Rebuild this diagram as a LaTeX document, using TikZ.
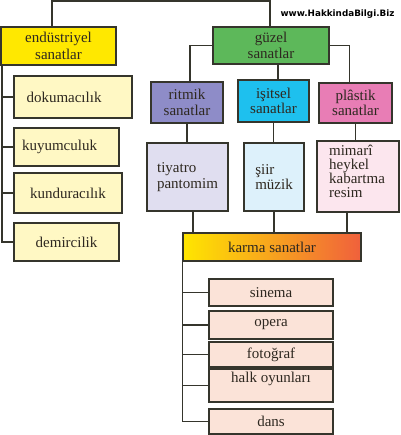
\documentclass[tikz,border=0pt]{standalone}
\usepackage{fontspec}
\setmainfont{Liberation Serif}
\newfontfamily\wmfont{DejaVu Sans}
\definecolor{linec}{HTML}{35352C}
\definecolor{textc}{HTML}{2E2820}
\definecolor{yellowA}{HTML}{FFE800}
\definecolor{yellowL}{HTML}{FFF8C4}
\definecolor{greenA}{HTML}{5DB85A}
\definecolor{purpleA}{HTML}{8E8CC8}
\definecolor{cyanA}{HTML}{1EC0EE}
\definecolor{pinkA}{HTML}{E87DB5}
\definecolor{lavL}{HTML}{E0DEF0}
\definecolor{cyanL}{HTML}{DDF1FB}
\definecolor{pinkL}{HTML}{FCE6EE}
\definecolor{karmaA}{HTML}{FFE600}
\definecolor{karmaB}{HTML}{F0603C}
\definecolor{peachL}{HTML}{FBE3D8}
\begin{document}
\begin{tikzpicture}[x=1pt,y=-1pt,
  txt/.style={font=\fontsize{15}{15.5}\selectfont, text=textc},
  box/.style={draw=linec, line width=1.2pt, inner sep=0pt, align=center, txt},
  sz/.style 2 args={minimum width=#1pt, minimum height=#2pt},
  every label/.style={txt, inner sep=0pt, align=left},
  conn/.style={draw=linec, line width=1.2pt}]
\useasboundingbox (0,0) rectangle (400,435);
% watermark
\node[font=\wmfont\bfseries\fontsize{8.8}{10}\selectfont, inner sep=0pt] (wm) at (337.5,14) {www.HakkindaBilgi.Biz};
% left branch
\node[box, sz={115}{38}, fill=yellowA, font=\fontsize{15}{17}\selectfont] (endu) at (58.5,46) {endüstriyel\\sanatlar};
\node[box, sz={118}{42}, fill=yellowL, label={[xshift=-9pt]center:dokumacılık}] (doku) at (73,97) {};
\node[box, sz={105}{38}, fill=yellowL, label={[xshift=-7pt]center:kuyumculuk}] (kuyu) at (66.5,147) {};
\node[box, sz={108}{40}, fill=yellowL] (kund) at (68,193) {kunduracılık};
\node[box, sz={105}{38}, fill=yellowL] (demi) at (66.5,242) {demircilik};
% right branch
\node[box, sz={116}{37}, fill=greenA, font=\fontsize{15}{16}\selectfont] (guzel) at (271,45.5) {güzel\\sanatlar};
\node[box, sz={72}{41}, fill=purpleA] (ritm) at (187,102.5) {ritmik\\sanatlar};
\node[box, sz={71}{42}, fill=cyanA] (isit) at (273.5,101) {işitsel\\sanatlar};
\node[box, sz={73}{40}, fill=pinkA] (plas) at (355.5,103) {plâstik\\sanatlar};
\node[box, sz={81}{68}, fill=lavL, align=left] (tiya) at (187.5,177) {tiyatro\\pantomim};
\node[box, sz={60}{68}, fill=cyanL, align=left] (siir) at (274,177) {şiir\\müzik};
\node[box, sz={82}{71}, fill=pinkL, label={[yshift=5pt, xshift=-1pt, font=\fontsize{15}{14}\selectfont]center:mimarî\\heykel\\kabartma\\resim}] (mima) at (358,176.5) {};
\node[box, sz={178}{28}, left color=karmaA, right color=karmaB] (karma) at (272,247) {karma sanatlar};
\node[box, sz={124}{27}, fill=peachL] (sine) at (271,292.5) {sinema};
\node[box, sz={124}{28}, fill=peachL] (oper) at (271,325) {opera};
\node[box, sz={124}{25}, fill=peachL] (foto) at (271,354.5) {fotoğraf};
\node[box, sz={124}{33}, fill=peachL, label={[yshift=7pt]center:halk oyunları}] (halk) at (271,385.5) {};
\node[box, sz={124}{25}, fill=peachL] (dans) at (271,421.5) {dans};
% connectors
\coordinate (topL) at (52,1);
\coordinate (topR) at (270,1);
\draw[conn] (endu.north -| topL) -- (topL) -- (topR) -- (guzel.north -| topR);
\coordinate (spine) at (2,0);
\draw[conn] (endu.south -| spine) |- (demi.west);
\draw[conn] (spine |- doku.west) -- (doku.west);
\draw[conn] (spine |- kuyu.west) -- (kuyu.west);
\draw[conn] (spine |- kund.west) -- (kund.west);
\draw[conn] (guzel.west) -| ([xshift=3pt]ritm.north);
\draw[conn] (guzel.east) -| ([xshift=-6pt]plas.north);
\draw[conn] ([xshift=4.5pt]isit.north) -- ([xshift=4.5pt]isit.north |- guzel.south);
\draw[conn] (ritm.south) -- (ritm.south |- tiya.north);
\draw[conn] (isit.south) -- (isit.south |- siir.north);
\draw[conn] (plas.south) -- (plas.south |- mima.north);
\draw[conn] ([xshift=5.5pt]tiya.south) -- ([xshift=5.5pt]tiya.south |- karma.north);
\draw[conn] (siir.south) -- (siir.south |- karma.north);
\draw[conn] ([xshift=-11pt]mima.south) -- ([xshift=-11pt]mima.south |- karma.north);
\draw[conn] (karma.south west) |- (dans.west);
\draw[conn] (karma.south west |- sine.west) -- (sine.west);
\draw[conn] (karma.south west |- oper.west) -- (oper.west);
\draw[conn] (karma.south west |- foto.west) -- (foto.west);
\draw[conn] (karma.south west |- halk.west) -- (halk.west);
\end{tikzpicture}
\end{document}
